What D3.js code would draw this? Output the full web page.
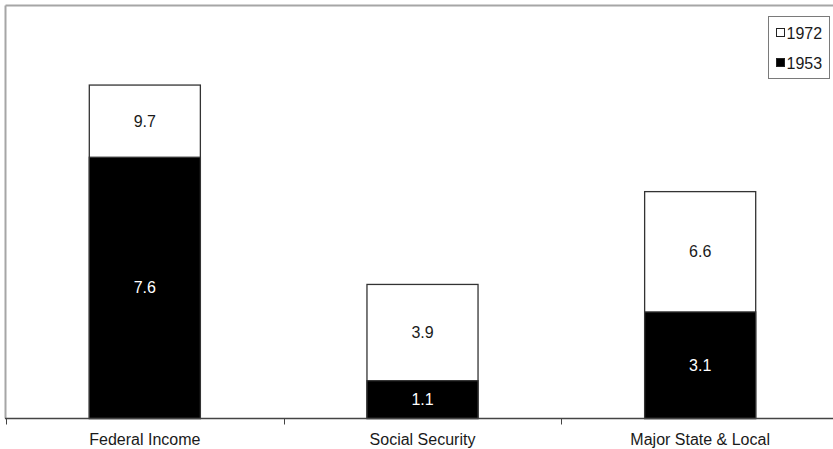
<!DOCTYPE html>
<html>
<head>
<meta charset="utf-8">
<script src="https://cdn.jsdelivr.net/npm/d3@7"></script>
<style>
  html, body { margin: 0; padding: 0; background: #fff; }
  svg { display: block; font-family: "Liberation Sans", Arial, sans-serif; }
</style>
</head>
<body>
<svg id="chart" width="833" height="449"></svg>
<script>
const categories = ["Federal Income", "Social Security", "Major State & Local"];
const values1972 = [9.7, 3.9, 6.6];
const values1953 = [7.6, 1.1, 3.1];
const seriesNames = ["1972", "1953"];
const yMax = 12;

(function () {
const svg = d3.select("#chart");
const W = 833, H = 449;
const pLeft = 6, pRight = 839, pTop = 6, pBottom = 418.5;
const fs = 16;

const x = d3.scaleBand().domain(categories).range([pLeft, pRight]).paddingInner(0.6).paddingOuter(0.3);
const y = d3.scaleLinear().domain([0, yMax]).range([pBottom, pTop]);

// plot frame (top and left gray lines)
svg.append("line").attr("x1", pLeft - 0.5).attr("x2", W).attr("y1", pTop - 0.5).attr("y2", pTop - 0.5)
  .attr("stroke", "#a6a6a6").attr("stroke-width", 2);
svg.append("line").attr("x1", pLeft - 0.5).attr("x2", pLeft - 0.5).attr("y1", pTop - 0.5).attr("y2", pBottom)
  .attr("stroke", "#a6a6a6").attr("stroke-width", 2);

// 1972 bars (white, full height)
svg.selectAll("rect.s1972").data(categories).enter().append("rect")
  .attr("class", "s1972")
  .attr("x", d => x(d)).attr("width", x.bandwidth())
  .attr("y", (d, i) => y(values1972[i]))
  .attr("height", (d, i) => y(0) - y(values1972[i]))
  .attr("fill", "#fff").attr("stroke", "#333").attr("stroke-width", 1.3);

// 1953 bars (black)
svg.selectAll("rect.s1953").data(categories).enter().append("rect")
  .attr("class", "s1953")
  .attr("x", d => x(d)).attr("width", x.bandwidth())
  .attr("y", (d, i) => y(values1953[i]))
  .attr("height", (d, i) => y(0) - y(values1953[i]))
  .attr("fill", "#000").attr("stroke", "#333").attr("stroke-width", 1.3);

// labels 1972 (centered in the white segment)
svg.selectAll("text.l1972").data(categories).enter().append("text")
  .attr("class", "l1972")
  .attr("x", d => x(d) + x.bandwidth() / 2)
  .attr("y", (d, i) => (y(values1972[i]) + y(values1953[i])) / 2)
  .attr("dy", "0.35em").attr("text-anchor", "middle")
  .attr("font-size", fs).attr("fill", "#1a1a1a")
  .text((d, i) => values1972[i].toFixed(1));

// labels 1953 (centered in the black segment)
svg.selectAll("text.l1953").data(categories).enter().append("text")
  .attr("class", "l1953")
  .attr("x", d => x(d) + x.bandwidth() / 2)
  .attr("y", (d, i) => (y(values1953[i]) + y(0)) / 2)
  .attr("dy", "0.35em").attr("text-anchor", "middle")
  .attr("font-size", fs).attr("fill", "#fff")
  .text((d, i) => values1953[i].toFixed(1));

// x axis
const axisG = svg.append("g").attr("transform", `translate(0,${pBottom})`);
axisG.append("line").attr("x1", pLeft - 1).attr("x2", W).attr("y1", 0).attr("y2", 0)
  .attr("stroke", "#444").attr("stroke-width", 1.6);
const tickPos = d3.range(categories.length + 1).map(i => pLeft + i * (pRight - pLeft) / categories.length);
axisG.selectAll("line.tick").data(tickPos).enter().append("line")
  .attr("class", "tick")
  .attr("x1", d => Math.round(d) + 0.5).attr("x2", d => Math.round(d) + 0.5)
  .attr("y1", 0).attr("y2", 6)
  .attr("stroke", "#444").attr("stroke-width", 1);
axisG.selectAll("text.cat").data(categories).enter().append("text")
  .attr("class", "cat")
  .attr("x", d => x(d) + x.bandwidth() / 2)
  .attr("y", 20.5).attr("dy", "0.35em")
  .attr("text-anchor", "middle").attr("font-size", fs).attr("fill", "#1a1a1a")
  .text(d => d);

// legend
const lg = svg.append("g").attr("transform", "translate(768,16)");
lg.append("rect").attr("x", 0.5).attr("y", 0.5).attr("width", 61).attr("height", 62)
  .attr("fill", "#fff").attr("stroke", "#7a7a7a").attr("stroke-width", 1);
const legFill = ["#fff", "#000"];
seriesNames.forEach((s, i) => {
  const cy = 17 + i * 30;
  lg.append("rect").attr("x", 8.5).attr("y", cy - 4.5).attr("width", 8).attr("height", 8)
    .attr("fill", legFill[i]).attr("stroke", "#222").attr("stroke-width", 1);
  lg.append("text").attr("x", 18.5).attr("y", cy).attr("dy", "0.35em")
    .attr("font-size", fs).attr("fill", "#1a1a1a").text(s);
});
})();
</script>
</body>
</html>
